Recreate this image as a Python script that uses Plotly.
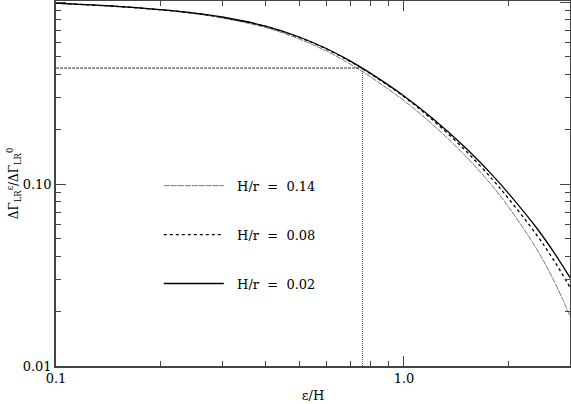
import plotly.graph_objects as go

# eps/H sample points
eps_h = [0.1, 0.15, 0.2, 0.25, 0.3, 0.4, 0.5, 0.6, 0.7, 0.8, 1.0, 1.2, 1.5, 1.8, 2.0, 2.4, 2.7, 3.0]

# dGamma_LR^eps / dGamma_LR^0 for each H/r
ratio_014 = [0.985, 0.945, 0.906, 0.864, 0.818, 0.725, 0.627, 0.537, 0.457, 0.389, 0.287,
             0.215, 0.1431, 0.0969, 0.0746, 0.0443, 0.0293, 0.0188]
ratio_008 = [0.986, 0.946, 0.907, 0.868, 0.826, 0.735, 0.640, 0.551, 0.472, 0.404, 0.302,
             0.2278, 0.1533, 0.1055, 0.0829, 0.0529, 0.0379, 0.0271]
ratio_002 = [0.986, 0.947, 0.909, 0.870, 0.828, 0.738, 0.643, 0.554, 0.475, 0.407, 0.305,
             0.232, 0.1587, 0.1112, 0.0886, 0.0577, 0.0420, 0.0306]

# marker lines
eps_mark = 0.76
ratio_mark = 0.434

fig = go.Figure()

fig.add_trace(go.Scatter(
    x=eps_h, y=ratio_014, mode="lines", name="\u00a0\u00a0H/r  =  0.14",
    legendgroup="a", line=dict(color="#777777", width=1, dash="6px,1px", shape="spline"),
))
fig.add_trace(go.Scatter(
    x=eps_h, y=ratio_008, mode="lines", name="\u00a0\u00a0H/r  =  0.08",
    legendgroup="b", line=dict(color="black", width=1.3, dash="dot", shape="spline"),
))
fig.add_trace(go.Scatter(
    x=eps_h, y=ratio_002, mode="lines", name="\u00a0\u00a0H/r  =  0.02",
    legendgroup="c", line=dict(color="black", width=1.3, shape="spline"),
))

# reference lines
fig.add_trace(go.Scatter(
    x=[0.1, eps_mark], y=[ratio_mark, ratio_mark], mode="lines", showlegend=False,
    line=dict(color="#333333", width=1, dash="3px,1px"),
))
fig.add_trace(go.Scatter(
    x=[eps_mark, eps_mark], y=[0.01, ratio_mark], mode="lines", showlegend=False,
    line=dict(color="#555555", width=1, dash="1px,1px"),
))

axis_font = dict(family="DejaVu Serif", size=13, color="black")

fig.update_xaxes(
    type="log", range=[-1, 0.4771], automargin=False,
    tickmode="array", tickvals=[0.1, 1.0], ticktext=["0.1", "1.0"],
    ticks="inside", ticklen=10, tickwidth=1, tickcolor="#444",
    minor=dict(tickmode="array", tickvals=[0.2, 0.3, 0.4, 0.5, 0.6, 0.7, 0.8, 0.9, 2, 3],
               ticks="inside", ticklen=5, tickcolor="#444"),
    showline=True, linecolor="#444", linewidth=1.5, mirror="ticks",
    showgrid=False, zeroline=False, tickfont=axis_font,
    title=dict(text="ε/H", font=axis_font, standoff=6),
)
fig.update_yaxes(
    type="log", range=[-2, 0.006], automargin=False,
    tickmode="array", tickvals=[0.01, 0.1, 1.0], ticktext=["0.01", "0.10", "1.00"],
    ticks="inside", ticklen=10, tickwidth=1, tickcolor="#444",
    minor=dict(tickmode="array",
               tickvals=[0.02, 0.03, 0.04, 0.05, 0.06, 0.07, 0.08, 0.09,
                         0.2, 0.3, 0.4, 0.5, 0.6, 0.7, 0.8, 0.9],
               ticks="inside", ticklen=5, tickcolor="#444"),
    showline=True, linecolor="#444", linewidth=1.5, mirror="ticks",
    showgrid=False, zeroline=False, tickfont=axis_font,
    title=dict(text="ΔΓ<sub>LR</sub><sup>ε</sup>/ΔΓ<sub>LR</sub><sup>0</sup>",
               font=dict(family="DejaVu Serif", size=12, color="black"), standoff=0),
)

fig.update_layout(
    width=571, height=404,
    margin=dict(l=56, r=1, t=1, b=38, autoexpand=False),
    plot_bgcolor="white", paper_bgcolor="white",
    legend=dict(
        x=0.2, y=0.535, xanchor="left", yanchor="top",
        bgcolor="rgba(0,0,0,0)", itemwidth=60, tracegroupgap=29,
        font=dict(family="DejaVu Serif", size=13, color="black"),
    ),
)

# drop the page's default body margin so the figure sits at the window's corner
fig.write_html("out.html", config={"displayModeBar": False},
               post_script="document.body.style.margin = '0';")
